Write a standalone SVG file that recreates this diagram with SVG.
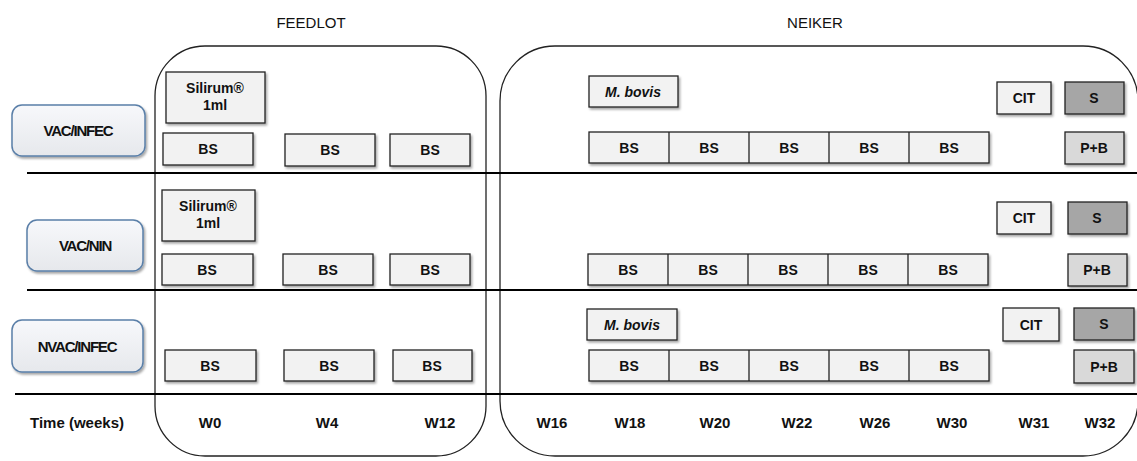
<svg xmlns="http://www.w3.org/2000/svg" width="1137" height="461" viewBox="0 0 1137 461">
<defs>
<linearGradient id="lg" x1="0" y1="0" x2="0" y2="1"><stop offset="0" stop-color="#f7f8fb"/><stop offset="1" stop-color="#e6e8ec"/></linearGradient>
<filter id="sh" x="-10%" y="-10%" width="130%" height="140%"><feDropShadow dx="1.5" dy="2" stdDeviation="1.2" flood-color="#000" flood-opacity="0.35"/></filter>
</defs>
<style>
text{font-family:"Liberation Sans",Arial,sans-serif;fill:#111;}
.b{font-weight:bold;font-size:14px;text-anchor:middle;}
.lb{font-weight:bold;font-size:15px;text-anchor:middle;letter-spacing:-1.2px;}
.box{fill:#f2f2f2;stroke:#222;stroke-width:1.3;filter:url(#sh);}
.dk{fill:#a6a6a6;stroke:#222;stroke-width:1.3;filter:url(#sh);}
.md{fill:#d9d9d9;stroke:#222;stroke-width:1.3;filter:url(#sh);}
.grp{fill:url(#lg);stroke:#5a7fa8;stroke-width:1.5;filter:url(#sh);}
.frame{fill:none;stroke:#222;stroke-width:1.3;}
.hl{stroke:#000;stroke-width:2;}
.hd{font-size:15px;text-anchor:middle;}
.t{font-weight:bold;font-size:15px;text-anchor:middle;}
</style>
<rect class="frame" x="155" y="46" width="331" height="410" rx="50"/>
<rect class="frame" x="500" y="46" width="638" height="410" rx="55"/>
<text class="hd" x="311" y="28">FEEDLOT</text>
<text class="hd" x="815" y="28">NEIKER</text>
<g id="connectors">
<line class="hl" x1="27" y1="173" x2="1137" y2="173"/>
<line class="hl" x1="27" y1="290" x2="1137" y2="290"/>
<line class="hl" x1="15" y1="394" x2="1137" y2="394"/>
</g>
<g id="g-vacinfec"><rect class="grp" x="12" y="105" width="133" height="51" rx="10"/><text class="lb" x="78" y="136">VAC/INFEC</text></g>
<g id="g-vacnin"><rect class="grp" x="27" y="220" width="116" height="51" rx="10"/><text class="lb" x="85" y="251">VAC/NIN</text></g>
<g id="g-nvacinfec"><rect class="grp" x="12" y="320" width="131" height="52" rx="10"/><text class="lb" x="77" y="352">NVAC/INFEC</text></g>
<g id="r1">
<rect class="box" x="166" y="72" width="99" height="51"/><text class="b" x="215" y="93" font-size="13">Silirum®</text><text class="b" x="215" y="110">1ml</text>
<rect class="box" x="163" y="133" width="90" height="32"/><text class="b" x="208" y="154">BS</text>
<rect class="box" x="285" y="134" width="90" height="32"/><text class="b" x="330" y="155">BS</text>
<rect class="box" x="390" y="134" width="80" height="32"/><text class="b" x="430" y="155">BS</text>
<rect class="box" x="589" y="76" width="89" height="31"/><text class="b" x="633" y="97" font-style="italic">M. bovis</text>
<rect class="box" x="589" y="132" width="400" height="31"/>
<g class="frame"><line x1="669" y1="132" x2="669" y2="163"/><line x1="749" y1="132" x2="749" y2="163"/><line x1="829" y1="132" x2="829" y2="163"/><line x1="909" y1="132" x2="909" y2="163"/></g>
<text class="b" x="629" y="153">BS</text><text class="b" x="709" y="153">BS</text><text class="b" x="789" y="153">BS</text><text class="b" x="869" y="153">BS</text><text class="b" x="949" y="153">BS</text>
<rect class="box" x="997" y="82" width="54" height="32"/><text class="b" x="1024" y="103">CIT</text>
<rect class="dk" x="1065" y="82" width="59" height="32"/><text class="b" x="1094" y="103">S</text>
<rect class="md" x="1065" y="132" width="59" height="32"/><text class="b" x="1094" y="153">P+B</text>
</g>
<g id="r2">
<rect class="box" x="162" y="190" width="93" height="51"/><text class="b" x="208" y="211" font-size="13">Silirum®</text><text class="b" x="208" y="228">1ml</text>
<rect class="box" x="162" y="254" width="91" height="31"/><text class="b" x="207" y="275">BS</text>
<rect class="box" x="283" y="254" width="90" height="31"/><text class="b" x="328" y="275">BS</text>
<rect class="box" x="390" y="254" width="80" height="31"/><text class="b" x="430" y="275">BS</text>
<rect class="box" x="588" y="254" width="400" height="31"/>
<g class="frame"><line x1="668" y1="254" x2="668" y2="285"/><line x1="748" y1="254" x2="748" y2="285"/><line x1="828" y1="254" x2="828" y2="285"/><line x1="908" y1="254" x2="908" y2="285"/></g>
<text class="b" x="628" y="275">BS</text><text class="b" x="708" y="275">BS</text><text class="b" x="788" y="275">BS</text><text class="b" x="868" y="275">BS</text><text class="b" x="948" y="275">BS</text>
<rect class="box" x="997" y="202" width="54" height="32"/><text class="b" x="1024" y="223">CIT</text>
<rect class="dk" x="1068" y="202" width="59" height="32"/><text class="b" x="1097" y="223">S</text>
<rect class="md" x="1068" y="254" width="59" height="32"/><text class="b" x="1097" y="275">P+B</text>
</g>
<g id="r3">
<rect class="box" x="587" y="309" width="90" height="31"/><text class="b" x="632" y="330" font-style="italic">M. bovis</text>
<rect class="box" x="165" y="350" width="91" height="31"/><text class="b" x="210" y="371">BS</text>
<rect class="box" x="284" y="350" width="90" height="31"/><text class="b" x="329" y="371">BS</text>
<rect class="box" x="393" y="350" width="79" height="31"/><text class="b" x="432" y="371">BS</text>
<rect class="box" x="589" y="350" width="400" height="31"/>
<g class="frame"><line x1="669" y1="350" x2="669" y2="381"/><line x1="749" y1="350" x2="749" y2="381"/><line x1="829" y1="350" x2="829" y2="381"/><line x1="909" y1="350" x2="909" y2="381"/></g>
<text class="b" x="629" y="371">BS</text><text class="b" x="709" y="371">BS</text><text class="b" x="789" y="371">BS</text><text class="b" x="869" y="371">BS</text><text class="b" x="949" y="371">BS</text>
<rect class="box" x="1003" y="308" width="56" height="33"/><text class="b" x="1031" y="330">CIT</text>
<rect class="dk" x="1074" y="308" width="60" height="32"/><text class="b" x="1104" y="329">S</text>
<rect class="md" x="1074" y="350" width="60" height="33"/><text class="b" x="1104" y="372">P+B</text>
</g>
<g id="time">
<text class="t" x="77" y="428">Time (weeks)</text>
<text class="t" x="210" y="428">W0</text>
<text class="t" x="327" y="428">W4</text>
<text class="t" x="440" y="428">W12</text>
<text class="t" x="552" y="428">W16</text>
<text class="t" x="630" y="428">W18</text>
<text class="t" x="715" y="428">W20</text>
<text class="t" x="797" y="428">W22</text>
<text class="t" x="875" y="428">W26</text>
<text class="t" x="952" y="428">W30</text>
<text class="t" x="1034" y="428">W31</text>
<text class="t" x="1100" y="428">W32</text>
</g>
</svg>
